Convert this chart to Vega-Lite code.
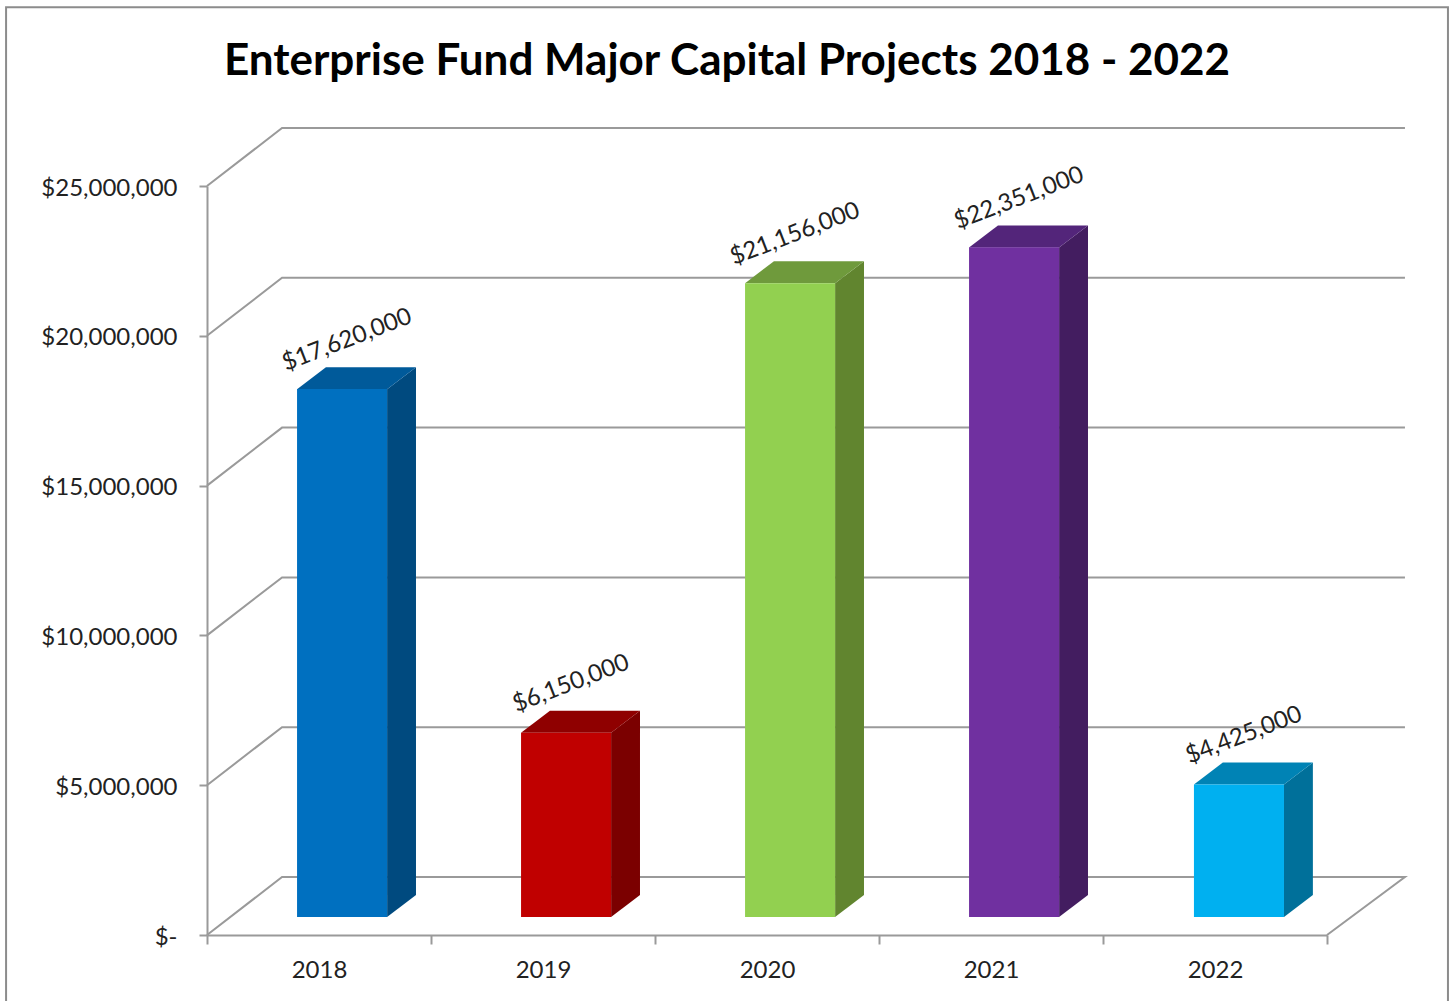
{
"$schema":"https://vega.github.io/schema/vega-lite/v6.json",
"width":1120,"height":749,
"autosize":{"type":"none"},
"padding":{"left":207,"top":186,"right":128,"bottom":66},
"background":"#ffffff",
"config":{"view":{"stroke":null}},
"title":{"text":"Enterprise Fund Major Capital Projects 2018 - 2022","font":"Lato","fontSize":44,"fontWeight":"bold","color":"#000000","anchor":"middle","frame":"group","dx":-40,"offset":-81},
"datasets":{
"bars":[
{"year":"2018","start":0.402,"end":0.804,"mid":0.603,"value":17620000},
{"year":"2019","start":1.402,"end":1.804,"mid":1.603,"value":6150000},
{"year":"2020","start":2.402,"end":2.804,"mid":2.603,"value":21156000},
{"year":"2021","start":3.402,"end":3.804,"mid":3.603,"value":22351000},
{"year":"2022","start":4.406,"end":4.808,"mid":4.607,"value":4425000}
],
"sides":[
{"year":"2018","x":0.804,"lo":600000,"hi":18220000},{"year":"2018","x":0.933,"lo":1334000,"hi":18954000},
{"year":"2019","x":1.804,"lo":600000,"hi":6750000},{"year":"2019","x":1.933,"lo":1334000,"hi":7484000},
{"year":"2020","x":2.804,"lo":600000,"hi":21756000},{"year":"2020","x":2.933,"lo":1334000,"hi":22490000},
{"year":"2021","x":3.804,"lo":600000,"hi":22951000},{"year":"2021","x":3.933,"lo":1334000,"hi":23685000},
{"year":"2022","x":4.808,"lo":600000,"hi":5025000},{"year":"2022","x":4.937,"lo":1334000,"hi":5759000}
],
"tops":[
{"year":"2018","x":0.402,"lo":18220000,"hi":18220000},{"year":"2018","x":0.531,"lo":18220000,"hi":18954000},{"year":"2018","x":0.804,"lo":18220000,"hi":18954000},{"year":"2018","x":0.933,"lo":18954000,"hi":18954000},
{"year":"2019","x":1.402,"lo":6750000,"hi":6750000},{"year":"2019","x":1.531,"lo":6750000,"hi":7484000},{"year":"2019","x":1.804,"lo":6750000,"hi":7484000},{"year":"2019","x":1.933,"lo":7484000,"hi":7484000},
{"year":"2020","x":2.402,"lo":21756000,"hi":21756000},{"year":"2020","x":2.531,"lo":21756000,"hi":22490000},{"year":"2020","x":2.804,"lo":21756000,"hi":22490000},{"year":"2020","x":2.933,"lo":22490000,"hi":22490000},
{"year":"2021","x":3.402,"lo":22951000,"hi":22951000},{"year":"2021","x":3.531,"lo":22951000,"hi":23685000},{"year":"2021","x":3.804,"lo":22951000,"hi":23685000},{"year":"2021","x":3.933,"lo":23685000,"hi":23685000},
{"year":"2022","x":4.406,"lo":5025000,"hi":5025000},{"year":"2022","x":4.535,"lo":5025000,"hi":5759000},{"year":"2022","x":4.808,"lo":5025000,"hi":5759000},{"year":"2022","x":4.937,"lo":5759000,"hi":5759000}
],
"walls":[
{"line":"0","o":1,"x":0,"y":0},{"line":"0","o":2,"x":0.335,"y":1936000},{"line":"0","o":3,"x":5.348,"y":1936000},{"line":"0","o":4,"x":5,"y":0},
{"line":"5M","o":1,"x":0,"y":5000000},{"line":"5M","o":2,"x":0.335,"y":6936000},{"line":"5M","o":3,"x":5.348,"y":6936000},
{"line":"10M","o":1,"x":0,"y":10000000},{"line":"10M","o":2,"x":0.335,"y":11936000},{"line":"10M","o":3,"x":5.348,"y":11936000},
{"line":"15M","o":1,"x":0,"y":15000000},{"line":"15M","o":2,"x":0.335,"y":16936000},{"line":"15M","o":3,"x":5.348,"y":16936000},
{"line":"20M","o":1,"x":0,"y":20000000},{"line":"20M","o":2,"x":0.335,"y":21936000},{"line":"20M","o":3,"x":5.348,"y":21936000},
{"line":"25M","o":1,"x":0,"y":25000000},{"line":"25M","o":2,"x":0.335,"y":26936000},{"line":"25M","o":3,"x":5.348,"y":26936000}
],
"frame":[
{"o":1,"x":-0.897,"y":-2400000},{"o":2,"x":-0.897,"y":30970000},{"o":3,"x":5.54,"y":30970000},{"o":4,"x":5.54,"y":-2400000}
]
},
"layer":[
{"data":{"name":"frame"},"mark":{"type":"line","color":"#8c8c8c","strokeWidth":2,"clip":false},
"encoding":{"x":{"field":"x","type":"quantitative","scale":{"domain":[0,5],"nice":false,"zero":false},
"axis":{"title":null,"grid":false,"values":[0,1,2,3,4,5],"domainColor":"#9a9a9a","domainWidth":2,"tickColor":"#9a9a9a","tickWidth":2,"tickSize":9,"labelFont":"Lato","labelFontSize":24,"labelColor":"#222222","labelPadding":14,"labelOffset":112,"labelBound":false,"labelFlush":false,"labelOverlap":false,"labelAngle":0,"labelAlign":"center","labelExpr":"datum.value<5?''+(2018+datum.value):''"}},
"y":{"field":"y","type":"quantitative","scale":{"domain":[0,25000000],"nice":false,"zero":false},
"axis":{"title":null,"grid":false,"values":[0,5000000,10000000,15000000,20000000,25000000],"domainColor":"#9a9a9a","domainWidth":2,"tickColor":"#9a9a9a","tickWidth":2,"tickSize":8,"labelFont":"Lato","labelFontSize":24,"labelColor":"#222222","labelPadding":22,"labelOffset":2,"labelBound":false,"labelFlush":false,"labelOverlap":false,"labelExpr":"datum.value===0?'$-':format(datum.value,'$,d')"}},
"order":{"field":"o","type":"quantitative"}}},
{"data":{"name":"walls"},"mark":{"type":"line","color":"#9a9a9a","strokeWidth":2},
"encoding":{"x":{"field":"x","type":"quantitative"},"y":{"field":"y","type":"quantitative"},"detail":{"field":"line"},"order":{"field":"o","type":"quantitative"}}},
{"data":{"name":"sides"},"mark":{"type":"area"},
"encoding":{"x":{"field":"x","type":"quantitative"},"y":{"field":"lo","type":"quantitative"},"y2":{"field":"hi"},
"color":{"field":"year","type":"nominal","legend":null,"scale":{"domain":["2018","2019","2020","2021","2022"],"range":["#004A7F","#7B0000","#61852F","#431D60","#00709A"]}}}},
{"data":{"name":"tops"},"mark":{"type":"area"},
"encoding":{"x":{"field":"x","type":"quantitative"},"y":{"field":"lo","type":"quantitative"},"y2":{"field":"hi"},
"color":{"field":"year","type":"nominal","legend":null,"scale":{"domain":["2018","2019","2020","2021","2022"],"range":["#005A9A","#8F0000","#6F9A3C","#53257A","#0083B5"]}}}},
{"data":{"name":"bars"},"mark":{"type":"rect","yOffset":-18,"y2Offset":-18},
"encoding":{"x":{"field":"start","type":"quantitative"},"x2":{"field":"end"},"y":{"field":"value","type":"quantitative"},"y2":{"datum":0},
"color":{"field":"year","type":"nominal","legend":null,"scale":{"domain":["2018","2019","2020","2021","2022"],"range":["#0070C0","#C00000","#92D050","#7030A0","#00B0F0"]}}}},
{"data":{"name":"bars"},"mark":{"type":"text","font":"Lato","fontSize":24,"angle":339,"color":"#222222","align":"center","baseline":"middle","xOffset":5,"yOffset":-67},
"encoding":{"x":{"field":"mid","type":"quantitative"},"y":{"field":"value","type":"quantitative"},"text":{"field":"value","type":"quantitative","format":"$,d"}}}
],
"resolve":{"scale":{"color":"independent"}}
}
